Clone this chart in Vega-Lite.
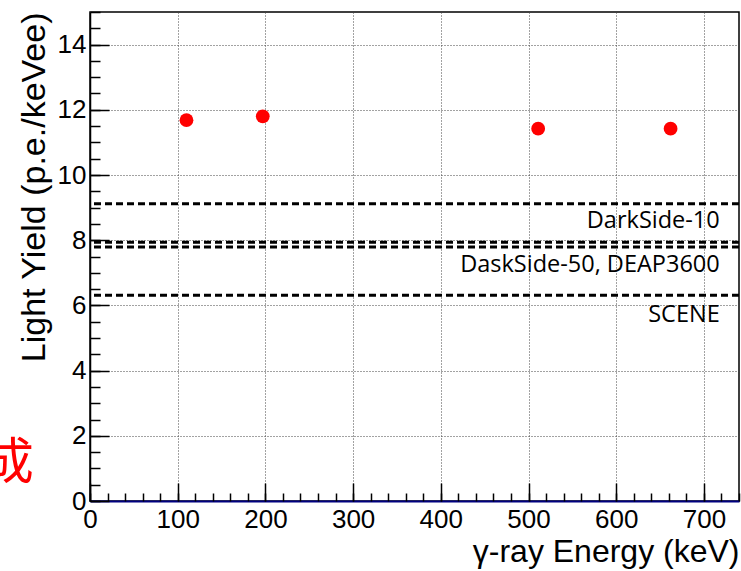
{
  "$schema": "https://vega.github.io/schema/vega-lite/v6.json",
  "width": 649,
  "height": 489,
  "autosize": {"type": "none"},
  "padding": {"left": 90, "top": 12, "right": 2, "bottom": 70},
  "background": "white",
  "config": {
    "view": {"stroke": "#000000", "strokeWidth": 1.5},
    "axis": {"labelFont": "Liberation Sans", "titleFont": "Liberation Sans", "labelColor": "#000", "titleColor": "#000", "titleFontWeight": "normal", "labelFlush": false, "labelOverlap": false}
  },
  "datasets": {
    "points": [
      {"energy": 110, "yield": 11.68},
      {"energy": 197, "yield": 11.8},
      {"energy": 511, "yield": 11.42},
      {"energy": 662, "yield": 11.42}
    ],
    "lines": [
      {"level": 9.12},
      {"level": 7.94},
      {"level": 7.79},
      {"level": 6.31}
    ],
    "labels": [
      {"xpos": 718, "ypos": 8.37, "label": "DarkSide-10"},
      {"xpos": 718, "ypos": 7.03, "label": "DaskSide-50, DEAP3600"},
      {"xpos": 718, "ypos": 5.49, "label": "SCENE"}
    ],
    "note": [
      {"xpos": -64, "ypos": 1.13, "label": "成"}
    ]
  },
  "resolve": {"axis": {"x": "independent", "y": "independent"}},
  "layer": [
    {
      "data": {"name": "lines"},
      "mark": {"type": "rule", "color": "#000000", "strokeWidth": 3, "strokeDash": [7, 4]},
      "encoding": {
        "y": {"field": "level", "type": "quantitative", "scale": {"domain": [0, 15], "nice": false, "zero": false},
          "axis": {"orient": "left", "values": [0,0.5,1,1.5,2,2.5,3,3.5,4,4.5,5,5.5,6,6.5,7,7.5,8,8.5,9,9.5,10,10.5,11,11.5,12,12.5,13,13.5,14,14.5,15], "tickSize": -10, "tickColor": "#000", "tickWidth": 1.5, "labels": false, "domain": false, "grid": false, "title": null}}
      }
    },
    {
      "data": {"name": "points"},
      "mark": {"type": "point", "filled": true, "color": "#ff0000", "opacity": 1, "size": 190, "shape": "circle"},
      "encoding": {
        "x": {"field": "energy", "type": "quantitative", "scale": {"domain": [0, 740], "nice": false, "zero": false},
          "axis": {"orient": "bottom", "values": [0,100,200,300,400,500,600,700], "ticks": false, "labelFontSize": 26, "labelPadding": 5, "grid": true, "gridDash": [1, 2], "gridColor": "#444", "gridWidth": 1, "domain": true, "domainColor": "#000080", "domainWidth": 2, "title": "γ-ray Energy (keV)", "titleFontSize": 32, "titleAnchor": "end", "titlePadding": 4}},
        "y": {"field": "yield", "type": "quantitative", "scale": {"domain": [0, 15], "nice": false, "zero": false},
          "axis": {"orient": "left", "values": [0,2,4,6,8,10,12,14], "ticks": false, "labelFontSize": 26, "labelPadding": 4, "grid": true, "gridDash": [1, 2], "gridColor": "#444", "gridWidth": 1, "domain": true, "domainColor": "#000", "domainWidth": 1.5, "title": "Light Yield (p.e./keVee)", "titleFontSize": 34, "titleAnchor": "end", "titlePadding": 6}}
      }
    },
    {
      "data": {"name": "labels"},
      "mark": {"type": "text", "align": "right", "baseline": "alphabetic", "font": "Open Sans", "fontSize": 23.5, "color": "#000"},
      "encoding": {
        "x": {"field": "xpos", "type": "quantitative", "scale": {"domain": [0, 740], "nice": false, "zero": false},
          "axis": {"orient": "bottom", "values": [0,100,200,300,400,500,600,700], "tickSize": -18, "tickColor": "#000", "tickWidth": 1.5, "labels": false, "domain": false, "grid": false, "title": null}},
        "y": {"field": "ypos", "type": "quantitative", "scale": {"domain": [0, 15], "nice": false, "zero": false},
          "axis": {"orient": "left", "values": [0,2,4,6,8,10,12,14], "tickSize": -19, "tickColor": "#000", "tickWidth": 1.5, "labels": false, "domain": false, "grid": false, "title": null}},
        "text": {"field": "label"}
      }
    },
    {
      "data": {"name": "note"},
      "mark": {"type": "text", "align": "right", "baseline": "middle", "font": "Noto Sans CJK SC", "fontSize": 50, "color": "#ff0000"},
      "encoding": {
        "x": {"field": "xpos", "type": "quantitative", "scale": {"domain": [0, 740], "nice": false, "zero": false},
          "axis": {"orient": "bottom", "values": [0,20,40,60,80,100,120,140,160,180,200,220,240,260,280,300,320,340,360,380,400,420,440,460,480,500,520,540,560,580,600,620,640,660,680,700,720,740], "tickSize": -8, "tickColor": "#000", "tickWidth": 1.5, "labels": false, "domain": false, "grid": false, "title": null}},
        "y": {"field": "ypos", "type": "quantitative", "scale": {"domain": [0, 15], "nice": false, "zero": false}, "axis": null},
        "text": {"field": "label"}
      }
    }
  ]
}
